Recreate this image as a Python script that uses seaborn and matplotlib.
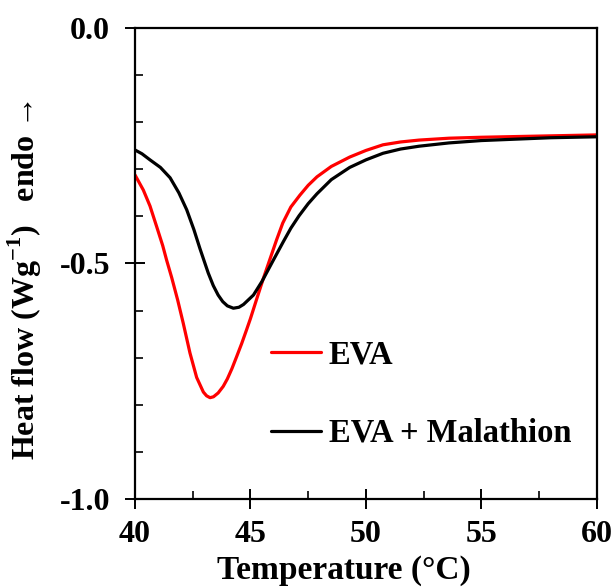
import numpy as np
import pandas as pd
import matplotlib
matplotlib.use("Agg")
import matplotlib.pyplot as plt
from matplotlib.ticker import MultipleLocator, FuncFormatter
import seaborn as sns

# Data
temp_eva = [40.0, 40.36, 40.65, 40.94, 41.2, 41.37, 41.59, 41.85, 42.09, 42.38, 42.67,
            42.96, 43.1, 43.25, 43.4, 43.6, 43.82, 44.0, 44.2, 44.4, 44.62, 44.83, 45.0,
            45.26, 45.55, 45.85, 46.13, 46.4, 46.75, 47.14, 47.5, 47.88, 48.5, 49.3,
            50.0, 50.74, 51.5, 52.3, 53.6, 55.0, 56.0, 57.0, 58.0, 59.0, 60.0]
hf_eva = [-0.312, -0.344, -0.378, -0.422, -0.462, -0.493, -0.530, -0.578, -0.627, -0.690,
          -0.742, -0.773, -0.781, -0.785, -0.783, -0.775, -0.761, -0.745, -0.723, -0.698,
          -0.670, -0.641, -0.617, -0.577, -0.533, -0.490, -0.450, -0.414, -0.380, -0.355,
          -0.334, -0.316, -0.294, -0.274, -0.260, -0.248, -0.242, -0.238, -0.234, -0.232,
          -0.231, -0.230, -0.229, -0.228, -0.227]

temp_mal = [40.0, 40.3, 40.65, 41.1, 41.52, 41.9, 42.24, 42.55, 42.81, 43.17, 43.39, 43.6,
            43.8, 44.0, 44.26, 44.5, 44.7, 45.13, 45.5, 45.99, 46.42, 46.75, 47.1, 47.5,
            47.88, 48.5, 49.3, 50.0, 50.74, 51.5, 52.3, 53.6, 55.0, 56.0, 57.0, 58.0,
            59.0, 60.0]
hf_mal = [-0.259, -0.267, -0.280, -0.296, -0.318, -0.350, -0.386, -0.428, -0.468, -0.520,
          -0.547, -0.567, -0.581, -0.590, -0.595, -0.593, -0.587, -0.567, -0.538, -0.493,
          -0.454, -0.425, -0.399, -0.373, -0.352, -0.322, -0.296, -0.280, -0.266, -0.257,
          -0.251, -0.244, -0.239, -0.237, -0.235, -0.233, -0.232, -0.231]

labels = ["EVA", "EVA + Malathion"]
colors = ["#ff0000", "#000000"]
x_ticks = [40, 45, 50, 55, 60]
y_ticks = [-1.0, -0.5, 0.0]

sns.set_style("white")
plt.rcParams["font.family"] = ["Liberation Serif", "DejaVu Serif"]
plt.rcParams["font.weight"] = "bold"
plt.rcParams["text.color"] = "black"
plt.rcParams["axes.labelcolor"] = "black"
plt.rcParams["axes.unicode_minus"] = False
plt.rcParams["mathtext.fontset"] = "custom"
plt.rcParams["mathtext.rm"] = "Liberation Serif:bold"
plt.rcParams["mathtext.bf"] = "Liberation Serif:bold"

df = pd.concat([
    pd.DataFrame({"T": temp_eva, "H": hf_eva, "s": labels[0]}),
    pd.DataFrame({"T": temp_mal, "H": hf_mal, "s": labels[1]}),
])

fig = plt.figure(figsize=(6.15, 5.87), dpi=100)
ax = fig.add_axes([0.2195, 0.150, 0.751, 0.8023])

sns.lineplot(data=df, x="T", y="H", hue="s", palette=dict(zip(labels, colors)),
             linewidth=2.3, ax=ax, sort=False)

ax.set_xlim(40, 60)
ax.set_ylim(-1.0, 0.0)
ax.set_xticks(x_ticks)
ax.set_yticks(y_ticks)
ax.xaxis.set_minor_locator(MultipleLocator(2.5))
ax.yaxis.set_minor_locator(MultipleLocator(0.1))
ax.yaxis.set_major_formatter(FuncFormatter(lambda v, p: f"{v:.1f}".replace("\u2212", "-")))
ax.xaxis.set_major_formatter(FuncFormatter(lambda v, p: f"{v:.0f}"))

for s in ax.spines.values():
    s.set_visible(True)
    s.set_linewidth(1.6)
    s.set_color("black")

ax.tick_params(which="major", direction="inout", length=14, width=1.4, labelsize=23,
               colors="black", bottom=True, left=True, top=False, right=False)
ax.tick_params(axis="x", which="major", pad=8)
ax.tick_params(axis="y", which="major", pad=11)
ax.tick_params(which="minor", direction="in", length=6, width=1.4,
               bottom=True, left=True, top=False, right=False)
for lab in ax.get_xticklabels() + ax.get_yticklabels():
    lab.set_fontweight("bold")
    lab.set_color("black")

ax.set_xlabel("Temperature (°C)", fontsize=24, fontweight="bold", color="black")
ax.xaxis.set_label_coords(0.453, -0.118)
ax.set_ylabel("Heat flow (Wg$^{-1}$)   endo \u2192", fontsize=23, fontweight="bold",
              color="black")
ax.yaxis.set_label_coords(-0.197, 0.465)

leg = ax.legend(loc="upper left", bbox_to_anchor=(0.266, 0.366), frameon=False,
                fontsize=23.5, handlelength=1.55, handletextpad=0.22, labelspacing=1.45,
                borderaxespad=0)
for t in leg.get_texts():
    t.set_fontweight("bold")
    t.set_color("black")
for h in leg.get_lines():
    h.set_linewidth(2.3)

fig.savefig("out.png", dpi=100)
